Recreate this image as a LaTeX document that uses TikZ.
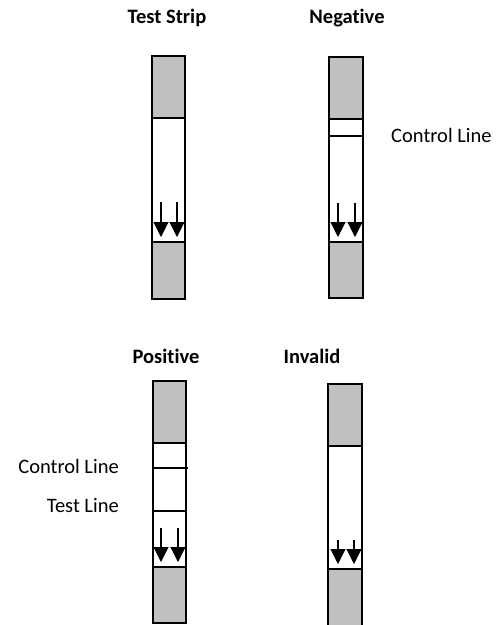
\documentclass[tikz,border=0pt]{standalone}
\usepackage{fontspec}
\setmainfont{Carlito}[Ligatures=NoCommon]
\usetikzlibrary{arrows.meta}
\definecolor{stripgray}{RGB}{192,192,192}
\tikzset{
  edge/.style={draw=black, line width=1.4pt},
  pad/.style={fill=stripgray},
  flow/.style={line width=1.1pt, -{Triangle[width=15pt,length=15pt]}},
  title/.style={font=\bfseries\fontsize{20.5}{24}\selectfont, inner sep=0pt},
  lbl/.style={font=\fontsize{20.5}{24}\selectfont, inner sep=0pt},
}
\begin{document}
\begin{tikzpicture}[x=1pt, y=-1pt]
\useasboundingbox (0,0) rectangle (497,625);
\clip (0,0) rectangle (497,625);
% ---------- Test Strip ----------
\fill[pad] (152,56) rectangle (185,118);
\fill[pad] (152,242) rectangle (185,299);
\draw[edge] (152,56) rectangle (185,299);
\draw[edge] (152,118) -- (185,118);
\draw[edge] (152,242) -- (185,242);
\draw[flow] (161,202) -- (161,237);
\draw[flow] (177,202) -- (177,237);
\node[title] (t1) at (167,18) {Test Strip};
% ---------- Negative ----------
\fill[pad] (329,57) rectangle (363,119);
\fill[pad] (329,242) rectangle (363,298);
\draw[edge] (329,57) rectangle (363,298);
\draw[edge] (329,119) -- (363,119);
\draw[edge] (329,136) -- (363,136);
\draw[edge] (329,242) -- (363,242);
\draw[flow] (338,203) -- (338,237);
\draw[flow] (355,203) -- (355,237);
\node[title] (t2) at (347,18) {Negative};
\node[lbl, anchor=west] (c2) at (391,135) {Control Line};
% ---------- Positive ----------
\fill[pad] (153,381) rectangle (186,443);
\fill[pad] (153,567) rectangle (186,623);
\draw[edge] (153,381) rectangle (186,623);
\draw[edge] (153,443) -- (186,443);
\draw[edge] (153,468) -- (188,468);
\draw[edge] (153,511) -- (186,511);
\draw[edge] (153,567) -- (186,567);
\draw[flow] (161,528) -- (161,562);
\draw[flow] (178,528) -- (178,562);
\node[title] (t3) at (166,356) {Positive};
\node[lbl, anchor=east] (c3) at (119,466) {Control Line};
\node[lbl, anchor=east] (l3) at (119,506) {Test Line};
% ---------- Invalid ----------
\fill[pad] (328,384) rectangle (362,446);
\fill[pad] (328,569) rectangle (362,640);
\draw[edge] (328,640) -- (328,384) -- (362,384) -- (362,640);
\draw[edge] (328,446) -- (362,446);
\draw[edge] (328,569) -- (362,569);
\draw[flow] (338,540) -- (338,564);
\draw[flow] (354,540) -- (354,564);
\node[title] (t4) at (312,356) {Invalid};
\end{tikzpicture}
\end{document}
